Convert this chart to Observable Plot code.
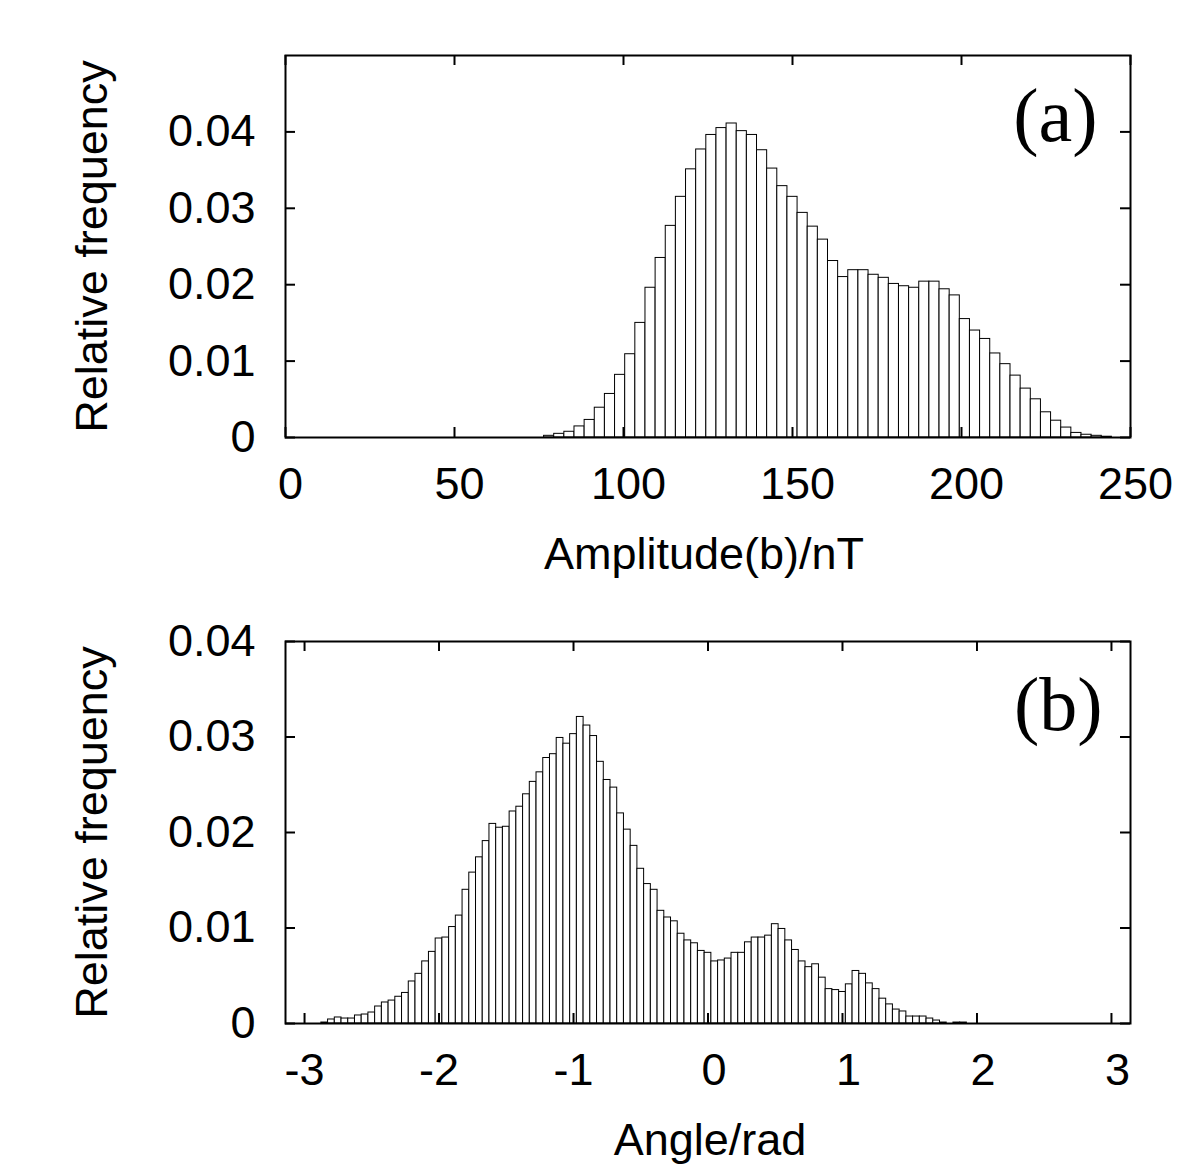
<!DOCTYPE html>
<html>
<head>
<meta charset="utf-8">
<script src="https://cdn.jsdelivr.net/npm/d3@7"></script>
<script src="https://cdn.jsdelivr.net/npm/@observablehq/plot@0.6"></script>
<style>
  html, body { margin: 0; padding: 0; background: #fff; }
  #chart svg { display: block; }
</style>
</head>
<body>
<div id="chart"></div>
<script>
// ---- Panel (a): amplitude histogram (bin width 3 nT, first bin centred at 78) ----
const ampBinStart = 76.5;
const ampBinWidth = 3;
const ampFreq = [
  0.00022, 0.00048, 0.00075, 0.00145, 0.0023, 0.0039, 0.0057, 0.0082, 0.0109, 0.0150,
  0.0196, 0.0235, 0.0277, 0.0315, 0.0351, 0.0377, 0.0396, 0.0405, 0.0411, 0.0401,
  0.0396, 0.0376, 0.0352, 0.0329, 0.0315, 0.0294, 0.0276, 0.0259, 0.0231, 0.0210,
  0.0219, 0.0219, 0.0213, 0.0209, 0.0201, 0.0198, 0.0196, 0.0204, 0.0204, 0.0194,
  0.0186, 0.0155, 0.0140, 0.0129, 0.0110, 0.0096, 0.0081, 0.0064, 0.0050, 0.0033,
  0.0022, 0.0013, 0.0006, 0.00036, 0.00022, 0.0001
];
const ampXTicks = [0, 50, 100, 150, 200, 250];
const ampYTicks = [0, 0.01, 0.02, 0.03, 0.04];
const ampXLabel = "Amplitude(b)/nT";
const ampTag = "(a)";

// ---- Panel (b): angle histogram (bin width 0.05 rad, first bin centred at -2.85) ----
const angBinStart = -2.875;
const angBinWidth = 0.05;
const angFreq = [
  0.0001, 0.00042, 0.00063, 0.00052, 0.00052, 0.00084, 0.00094, 0.00115, 0.00178, 0.0022,
  0.0024, 0.0028, 0.0032, 0.0044, 0.0052, 0.0065, 0.0075, 0.0089, 0.0090, 0.0101,
  0.0113, 0.0140, 0.0158, 0.0174, 0.0191, 0.0209, 0.0205, 0.0206, 0.0222, 0.0227,
  0.0240, 0.0253, 0.0263, 0.0278, 0.0282, 0.0299, 0.0293, 0.0303, 0.0321, 0.0312,
  0.0301, 0.0274, 0.0255, 0.0247, 0.0220, 0.0203, 0.0186, 0.0162, 0.0146, 0.0140,
  0.0118, 0.0111, 0.0107, 0.0094, 0.0087, 0.0084, 0.0076, 0.0074, 0.0065, 0.0066,
  0.0068, 0.0074, 0.0074, 0.0085, 0.0090, 0.0090, 0.0092, 0.0104, 0.0099, 0.0087,
  0.0077, 0.0065, 0.0059, 0.0062, 0.0048, 0.0036, 0.0035, 0.0033, 0.0041, 0.0055,
  0.0052, 0.0042, 0.0036, 0.0026, 0.0020, 0.00146, 0.00126, 0.00073, 0.00073, 0.00073,
  0.00052, 0.00031, 0.0001, 0, 0.0001, 0.0001
];
const angXTicks = [-3, -2, -1, 0, 1, 2, 3];
const angYTicks = [0, 0.01, 0.02, 0.03, 0.04];
const angXLabel = "Angle/rad";
const angTag = "(b)";

const yLabel = "Relative frequency";

const W = 1200, H = 586;
const mL = 285, mR = 70, mT = 55, mB = 149;
const plotW = W - mL - mR, plotH = H - mT - mB;
const TICK = 10;
const SANS = "'Liberation Sans', Arial, Helvetica, sans-serif";
const SERIF = "'Liberation Serif', 'Times New Roman', serif";

function bins(start, width, freq) {
  return freq.map((f, i) => ({x1: start + i * width, x2: start + (i + 1) * width, y: f}));
}
const yFmt = d => d === 0 ? "0" : d.toFixed(2);

function panel({data, xDomain, yDomain, xTicks, yTicks, xLabel, tag, tagDx, tagDy, xLabelDx, titleDx}) {
  return Plot.plot({
    width: W, height: H,
    marginLeft: mL, marginRight: mR, marginTop: mT, marginBottom: mB,
    style: {fontFamily: SANS, fontSize: "45px", background: "#fff", color: "#000", overflow: "visible"},
    x: {domain: xDomain},
    y: {domain: yDomain},
    marks: [
      Plot.rectY(data, {x1: "x1", x2: "x2", y: "y", fill: "#fff", stroke: "#000", strokeWidth: 1, inset: 0}),
      // inward tick marks (bottom, top, left, right)
      Plot.tickX(xTicks, {x: d => d, insetTop: plotH - TICK, stroke: "#000", strokeWidth: 2}),
      Plot.tickX(xTicks, {x: d => d, insetBottom: plotH - TICK, stroke: "#000", strokeWidth: 2}),
      Plot.tickY(yTicks, {y: d => d, insetRight: plotW - TICK, stroke: "#000", strokeWidth: 2}),
      Plot.tickY(yTicks, {y: d => d, insetLeft: plotW - TICK, stroke: "#000", strokeWidth: 2}),
      Plot.frame({stroke: "#000", strokeWidth: 2}),
      Plot.axisX(xTicks.filter(d => d < 0), {anchor: "bottom", tickSize: 0, tickPadding: 30, tickFormat: d => String(d), fontSize: 45, label: null}),
      Plot.axisX(xTicks.filter(d => d >= 0), {anchor: "bottom", tickSize: 0, tickPadding: 30, tickFormat: d => String(d), fontSize: 45, label: null, dx: xLabelDx}),
      Plot.axisY(yTicks, {anchor: "left", tickSize: 0, tickPadding: 30, tickFormat: yFmt, fontSize: 45, label: null}),
      Plot.text([xLabel], {text: d => d, frameAnchor: "bottom", textAnchor: "middle", dx: titleDx, dy: 117, lineAnchor: "middle", fontSize: 45}),
      Plot.text([yLabel], {text: d => d, frameAnchor: "left", textAnchor: "middle", rotate: -90, dx: -193, lineAnchor: "middle", fontSize: 45}),
      Plot.text([tag], {text: d => d, frameAnchor: "top-right", textAnchor: "end", lineAnchor: "bottom", dx: tagDx, dy: tagDy, fontSize: 76, fontFamily: SERIF})
    ]
  });
}

const chart = document.getElementById("chart");
chart.append(panel({
  data: bins(ampBinStart, ampBinWidth, ampFreq),
  xDomain: [0, 250], yDomain: [0, 0.05],
  xTicks: ampXTicks, yTicks: ampYTicks,
  xLabel: ampXLabel, tag: ampTag, tagDx: -33, tagDy: 85, xLabelDx: 5, titleDx: -4
}));
chart.append(panel({
  data: bins(angBinStart, angBinWidth, angFreq),
  xDomain: [-Math.PI, Math.PI], yDomain: [0, 0.04],
  xTicks: angXTicks, yTicks: angYTicks,
  xLabel: angXLabel, tag: angTag, tagDx: -28, tagDy: 88, xLabelDx: 6, titleDx: 2
}));
</script>
</body>
</html>
